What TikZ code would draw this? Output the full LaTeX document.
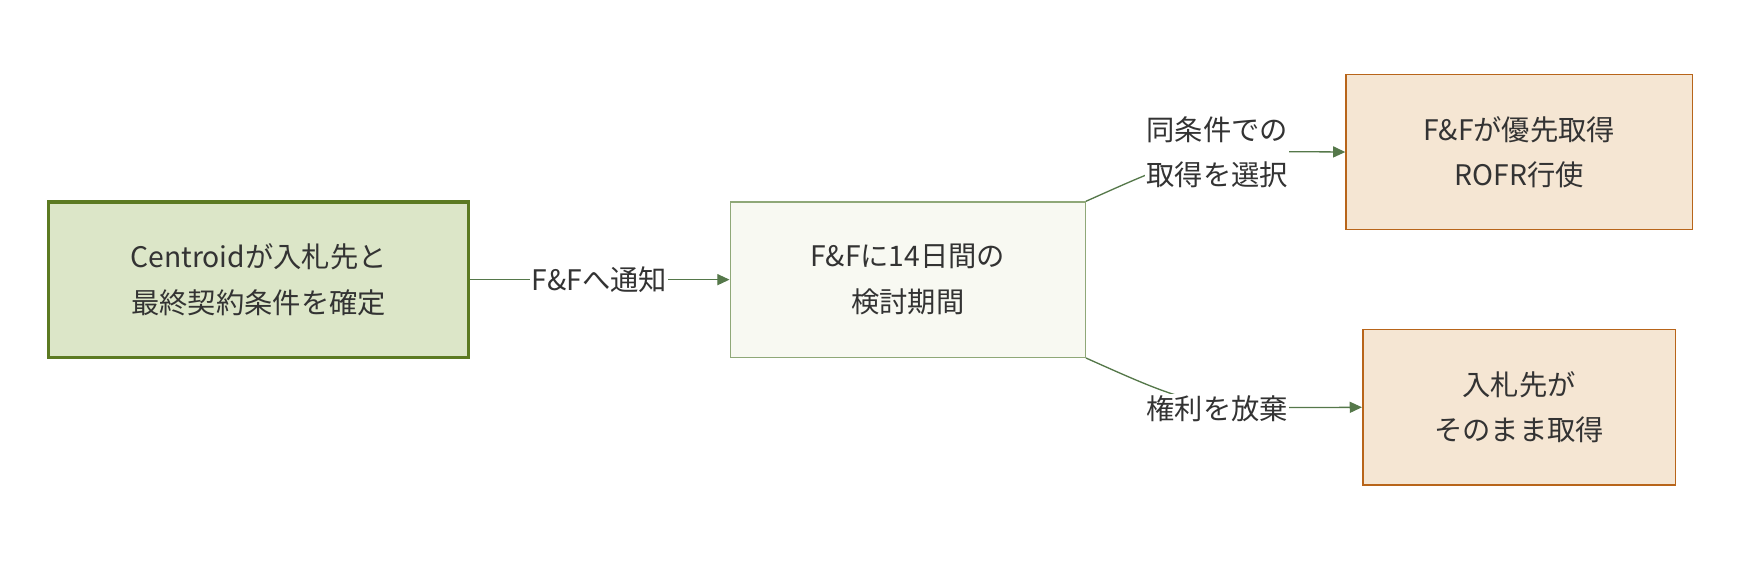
\documentclass[tikz,border=0pt]{standalone}
\usepackage{fontspec}
\setmainfont{Noto Sans CJK JP}
\usetikzlibrary{arrows.meta}
\definecolor{txt}{HTML}{333333}
\definecolor{edgec}{HTML}{55784A}
\tikzset{
  box/.style = {draw, minimum height=140pt, align=center, text=txt, font=\fontsize{25.5}{41}\selectfont},
  start/.style = {box, line width=3pt, draw={rgb,255:red,92;green,122;blue,34}, fill={rgb,255:red,220;green,230;blue,200}, minimum width=378pt},
  wait/.style = {box, line width=1.2pt, draw={rgb,255:red,143;green,168;blue,120}, fill={rgb,255:red,248;green,249;blue,242}, minimum width=320pt},
  result/.style = {box, line width=1.4pt, draw={rgb,255:red,184;green,101;blue,26}, fill={rgb,255:red,245;green,230;blue,211}},
  lbl/.style = {fill=white, inner sep=1pt, align=center, text=txt, font=\fontsize{25.5}{41}\selectfont},
  edge/.style = {draw=edgec, line width=1.2pt, -{Triangle[length=11pt,width=10pt]}}
}
\begin{document}
\begin{tikzpicture}[x=1pt, y=-1pt]
  \useasboundingbox (0,0) rectangle (1568,508);
  \node[start] (decide) at (233,252) {Centroidが入札先と\\最終契約条件を確定};
  \node[wait] (review) at (818,252) {F\&Fに14日間の\\検討期間};
  \node[result, minimum width=312pt] (rofr) at (1369,137) {F\&Fが優先取得\\ROFR行使};
  \node[result, minimum width=282pt] (bidder) at (1369,367) {入札先が\\そのまま取得};
  \draw[edge] (decide) -- (review);
  \draw[edge] (review.north east) .. controls (1080,136) .. (rofr.west);
  \draw[edge] (review.south east) .. controls (1080,368) .. (bidder.west);
  \node[lbl] (notify) at (540,252) {F\&Fへ通知};
  \node[lbl] (exercise) at (1097,137) {同条件での\\取得を選択};
  \node[lbl] (waive) at (1097,368) {権利を放棄};
\end{tikzpicture}
\end{document}
